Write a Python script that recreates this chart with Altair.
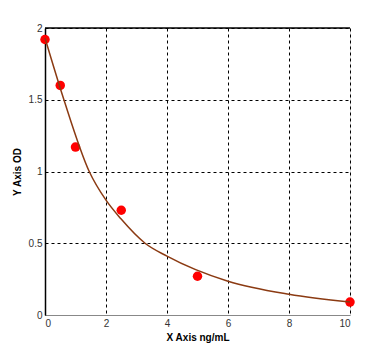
import altair as alt
import pandas as pd

# measured standard points
pt_x = [0, 0.5, 1, 2.5, 5, 10]
pt_y = [1.92, 1.60, 1.17, 0.73, 0.27, 0.09]

# fitted curve
cv_x = [0, 0.62, 1.45, 2.0, 2.49, 3.28, 4, 6, 8, 10]
cv_y = [1.93, 1.50, 1.00, 0.80, 0.67, 0.50, 0.41, 0.235, 0.144, 0.09]

x_ticks = [0, 2, 4, 6, 8, 10]
y_ticks = [0, 0.5, 1, 1.5, 2]

pts = pd.DataFrame({"x": pt_x, "y": pt_y})
cv = pd.DataFrame({"x": cv_x, "y": cv_y})

xs = alt.Scale(domain=[0, 10], nice=False, zero=False)
ys = alt.Scale(domain=[0, 2], nice=False, zero=False)

grid_axis = dict(gridColor="#000000", gridDash=[3, 3], gridWidth=1, gridOpacity=1,
                 ticks=False, labelFont="Liberation Sans", labelFontSize=10,
                 labelColor="#333333", titleFont="Liberation Sans", titleFontSize=10,
                 titleFontWeight="bold", titleColor="#000000", labelPadding=3,
                 labelExpr="'' + datum.value")

xaxis = alt.Axis(values=x_ticks, title="X Axis ng/mL", domainColor="#888888",
                 titlePadding=4, **grid_axis)
yaxis = alt.Axis(values=y_ticks, title="Y Axis OD", domainColor="#000000",
                 domainWidth=1.5, titlePadding=6, **grid_axis)

curve = alt.Chart(cv).mark_line(color="#8B3A12", strokeWidth=1.5, interpolate="monotone").encode(
    x=alt.X("x:Q", scale=xs, axis=xaxis),
    y=alt.Y("y:Q", scale=ys, axis=yaxis),
)

points = alt.Chart(pts).mark_circle(color="#FF0000", size=90, opacity=1).encode(
    x=alt.X("x:Q", scale=xs),
    y=alt.Y("y:Q", scale=ys),
)

top = alt.Chart(pts.head(1)).mark_rule(color="#000000", strokeWidth=1.5).encode(
    x=alt.value(0), x2=alt.value(305), y=alt.value(0),
)

chart = alt.layer(points, curve, top).properties(
    width=305, height=287,
    autosize=alt.AutoSizeParams(type="none"),
    padding={"left": 45, "top": 28, "right": 24, "bottom": 36},
).configure_view(stroke="#888888").configure(background="#ffffff")

chart.save("out.html", embed_options={"renderer": "svg", "actions": False})
